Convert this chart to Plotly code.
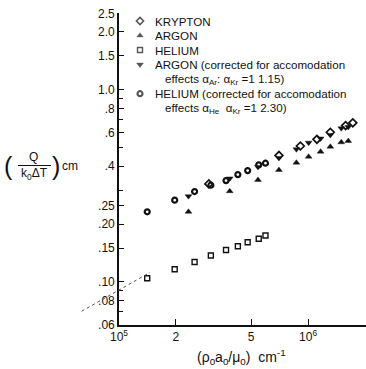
import math
import plotly.graph_objects as go

# Measured heat-transfer parameter vs. Reynolds-type group
helium_x = [1.41e5, 1.97e5, 2.51e5, 3.06e5, 3.68e5, 4.25e5, 4.79e5, 5.48e5, 5.95e5]
helium_y = [0.1043, 0.1163, 0.1269, 0.1372, 0.1465, 0.1533, 0.1606, 0.1677, 0.1744]
helium_corr_y = [0.2316, 0.2663, 0.2952, 0.3186, 0.3367, 0.3617, 0.3795, 0.4063, 0.4146]

argon_x = [2.33e5, 3.85e5, 5.43e5, 7.01e5, 8.67e5, 1.006e6, 1.164e6, 1.310e6, 1.497e6, 1.630e6]
argon_y = [0.2316, 0.2966, 0.3395, 0.3825, 0.4175, 0.4485, 0.4763, 0.5055, 0.5330, 0.5413]
argon_corr_y = [0.2793, 0.3456, 0.3966, 0.4417, 0.4900, 0.5304, 0.5578, 0.5815, 0.6300, 0.6398]

krypton_x = [2.985e5, 7.01e5, 9.10e5, 1.113e6, 1.310e6, 1.578e6, 1.723e6]
krypton_y = [0.3236, 0.4550, 0.5097, 0.5524, 0.6011, 0.6513, 0.6733]

# Dotted extrapolation of the helium data toward low flow
guide_x = [6.35e4, 1.46e5]
guide_y = [0.0703, 0.112]

x_tickvals = [1e5, 2e5, 5e5, 1e6]
x_ticktext = ["10<sup>5</sup>", "2", "5", "10<sup>6</sup>"]
y_tickvals = [0.06, 0.08, 0.10, 0.15, 0.20, 0.25, 0.4, 0.6, 0.8, 1.0, 1.5, 2.0, 2.5]
y_ticktext = [".06", ".08", ".10", ".15", ".20", ".25", ".4", ".6", ".8",
              "1.0", "1.5", "2.0", "2.5"]
y_minor_ticks = [0.07, 0.09, 0.3, 0.5, 0.7, 0.9]

legend_labels = [
    "KRYPTON",
    "ARGON",
    "HELIUM",
    "ARGON (corrected for accomodation",
    "effects α<sub>Ar</sub>: α<sub>Kr</sub> =1 1.15)",
    "HELIUM (corrected for accomodation",
    "effects α<sub>He</sub>  α<sub>Kr</sub> =1 2.30)",
]

FONT = "Liberation Sans, Arial, sans-serif"
INK = "#111111"

W, H = 366, 369
ML, MR, MT, MB = 119, 0, 13, 44
PW, PH = W - ML - MR, H - MT - MB

x_range = [5.0, 6.306]
y_range = [math.log10(0.06) - 0.003, math.log10(2.5) + 0.002]


def paper(xp, yp):
    """Pixel position on the page -> paper coordinates."""
    return (xp - ML) / PW, (H - MB - yp) / PH


def data_to_paper(xv, yv):
    px_ = (math.log10(xv) - x_range[0]) / (x_range[1] - x_range[0])
    py_ = (math.log10(yv) - y_range[0]) / (y_range[1] - y_range[0])
    return px_, py_


def paper_to_data(px_, py_):
    xv = 10 ** (x_range[0] + px_ * (x_range[1] - x_range[0]))
    yv = 10 ** (y_range[0] + py_ * (y_range[1] - y_range[0]))
    return xv, yv


fig = go.Figure()

fig.add_trace(go.Scatter(
    x=helium_x, y=helium_y, mode="markers", name="HELIUM",
    marker=dict(symbol="square-open", size=5, color=INK, line=dict(color=INK, width=1.4)),
))
fig.add_trace(go.Scatter(
    x=helium_x, y=helium_corr_y, mode="markers", name="HELIUM corrected",
    marker=dict(symbol="circle-open", size=5, color=INK, line=dict(color=INK, width=2.2)),
))
fig.add_trace(go.Scatter(
    x=argon_x, y=argon_y, mode="markers", name="ARGON",
    marker=dict(symbol="triangle-up", size=6, color=INK, line=dict(color=INK, width=0.4)),
))
fig.add_trace(go.Scatter(
    x=argon_x, y=argon_corr_y, mode="markers", name="ARGON corrected",
    marker=dict(symbol="triangle-down", size=6, color=INK, line=dict(color=INK, width=0.4)),
))
fig.add_trace(go.Scatter(
    x=krypton_x, y=krypton_y, mode="markers", name="KRYPTON",
    marker=dict(symbol="diamond-open", size=6, color=INK, line=dict(color=INK, width=1.7)),
))

# Key: symbols placed in the upper-left of the plot, text as annotations
line_y = [21, 35.5, 50, 64.6, 79.2, 93.7, 108.3]
key_rows = [0, 1, 2, 3, 5]
key_symbols = ["diamond-open", "triangle-up", "square-open", "triangle-down", "circle-open"]
key_sizes = [5.5, 5.5, 5, 6, 5]
key_widths = [1.6, 0.4, 1.4, 0.4, 2.2]
kx, ky = [], []
for r in key_rows:
    d = paper_to_data(*paper(140, line_y[r]))
    kx.append(d[0])
    ky.append(d[1])
fig.add_trace(go.Scatter(
    x=kx, y=ky, mode="markers", showlegend=False, cliponaxis=False, hoverinfo="skip",
    marker=dict(symbol=key_symbols, size=key_sizes, color=INK,
                line=dict(color=INK, width=key_widths)),
))

annotations = []
for i, txt in enumerate(legend_labels):
    indent = 162.5 if txt.startswith("effects") else 153
    ax_, ay_ = paper(indent, line_y[i])
    annotations.append(dict(
        x=ax_, y=ay_, xref="paper", yref="paper", text=txt, showarrow=False,
        xanchor="left", yanchor="middle", font=dict(family=FONT, size=11.6, color=INK),
    ))


def add_text(xp, yp, txt, size, xanchor="center"):
    ax_, ay_ = paper(xp, yp)
    annotations.append(dict(
        x=ax_, y=ay_, xref="paper", yref="paper", text=txt, showarrow=False,
        xanchor=xanchor, yanchor="middle", font=dict(family=FONT, size=size, color=INK),
    ))


# y-axis title built as a stacked fraction
add_text(8, 166, "(", 25)
add_text(33, 157, "Q", 12)
add_text(34, 174, "k<sub>0</sub>ΔT", 12)
add_text(56, 166, ")", 25)
add_text(60, 166, "cm", 12, xanchor="left")
add_text(241, 357, "(ρ<sub>0</sub>a<sub>0</sub>/μ<sub>0</sub>)  cm<sup>-1</sup>", 14)

shapes = []
b0 = paper(18, 165.5)
b1 = paper(51, 165.5)
shapes.append(dict(type="line", xref="paper", yref="paper", x0=b0[0], y0=b0[1],
                   x1=b1[0], y1=b1[1], line=dict(color=INK, width=1)))

g0 = data_to_paper(guide_x[0], guide_y[0])
g1 = data_to_paper(guide_x[1], guide_y[1])
shapes.append(dict(type="line", xref="paper", yref="paper", x0=g0[0], y0=g0[1],
                   x1=g1[0], y1=g1[1], line=dict(color="#555555", width=1, dash="dot")))

axis_common = dict(
    type="log", showline=True, linecolor=INK, linewidth=1.6, ticks="inside",
    tickcolor=INK, tickwidth=1.2, showgrid=False, zeroline=False, automargin=False,
    tickfont=dict(family=FONT, size=12, color=INK), tickmode="array",
)

fig.update_layout(
    width=W, height=H,
    margin=dict(l=ML, r=MR, t=MT, b=MB, pad=0),
    paper_bgcolor="white", plot_bgcolor="white",
    showlegend=False,
    xaxis=dict(**axis_common, range=x_range, tickvals=x_tickvals, ticktext=x_ticktext,
               ticklen=6),
    yaxis=dict(**axis_common, range=y_range, tickvals=y_tickvals, ticktext=y_ticktext,
               ticklen=5,
               minor=dict(tickmode="array", tickvals=y_minor_ticks, ticks="inside",
                          ticklen=4, tickcolor=INK, tickwidth=1.1, showgrid=False)),
    annotations=annotations,
    shapes=shapes,
)

fig.write_html("out.html")
